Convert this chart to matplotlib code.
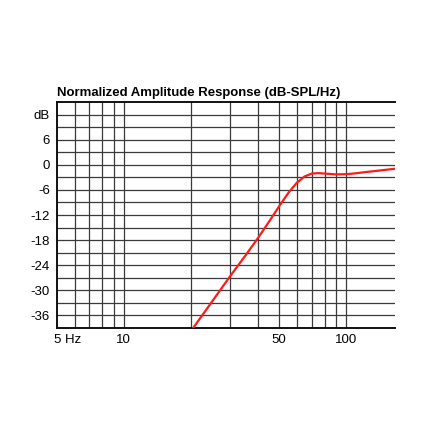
import matplotlib

matplotlib.use("Agg")
import matplotlib.pyplot as plt
from matplotlib.transforms import ScaledTranslation

plt.rcParams["font.family"] = ["Liberation Sans", "DejaVu Sans"]

# response curve
freq_hz = [20.0, 20.5, 25, 30, 35, 40, 45, 50, 55, 60, 65, 70, 75, 80,
           90, 100, 110, 120, 140, 166]
level_db = [-39.8, -39.0, -32.6, -26.7, -21.9, -17.6, -13.6, -9.9, -6.7,
            -4.3, -2.8, -2.1, -2.0, -2.1, -2.3, -2.25, -2.05, -1.8, -1.4,
            -0.95]

x_ticks = [5, 10, 50, 100]
x_labels = ["5 Hz", "10", "50", "100"]
x_grid = [6, 7, 8, 9, 10, 20, 30, 40, 50, 60, 70, 80, 90, 100]
y_ticks = [12, 6, 0, -6, -12, -18, -24, -30, -36]
y_labels = ["dB", "6", "0", "-6", "-12", "-18", "-24", "-30", "-36"]
y_grid = list(range(-36, 15, 3))

GRID = "#3a3a3a"

fig = plt.figure(figsize=(4.3, 4.3), dpi=100)
ax = fig.add_axes([57 / 430, 1 - 328 / 430, 338 / 430, 226 / 430])
ax.set_xscale("log")
ax.set_xlim(5, 166)
ax.set_ylim(-39, 15)

for g in x_grid:
    ax.axvline(g, color=GRID, lw=0.9, zorder=1)
for g in y_grid:
    ax.axhline(g, color=GRID, lw=0.9, zorder=1)

ax.plot(freq_hz, level_db, color="#ff1a1a", lw=1.6, zorder=3,
        solid_capstyle="round")

ax.set_xticks(x_ticks)
ax.set_xticklabels(x_labels, fontsize=9.5)
ax.xaxis.set_minor_locator(matplotlib.ticker.NullLocator())
ax.set_yticks(y_ticks)
ax.set_yticklabels(y_labels, fontsize=9.5)
ax.tick_params(length=0)
ax.tick_params(axis="y", pad=5)
ax.tick_params(axis="x", pad=4)

first = ax.get_xticklabels()[0]
first.set_ha("left")
first.set_transform(first.get_transform()
                    + ScaledTranslation(-3 / 100, 0, fig.dpi_scale_trans))

for side in ["left", "bottom", "top"]:
    ax.spines[side].set_linewidth(1.4)
    ax.spines[side].set_color("#111111")
ax.spines["right"].set_visible(False)

ax.set_title("Normalized Amplitude Response (dB-SPL/Hz)", loc="left",
             fontsize=9.45, fontweight="bold", pad=4.5)

fig.savefig("out.png", dpi=100, facecolor="white")
